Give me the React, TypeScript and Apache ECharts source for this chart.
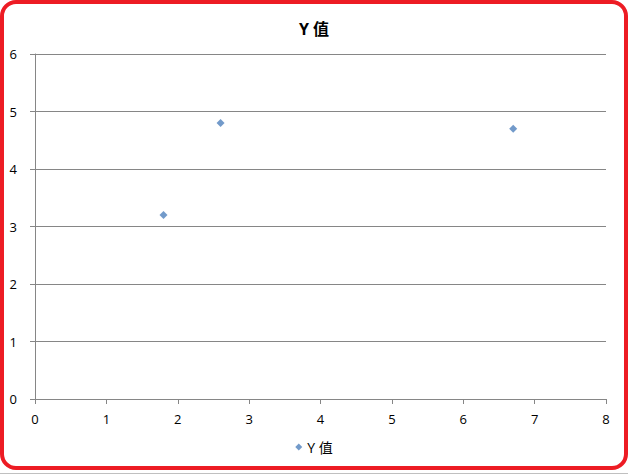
import React, { useEffect, useRef } from "react";
import * as echarts from "echarts";

const seriesName = "Y 值";
const xValues = [1.8, 2.6, 6.7];
const yValues = [3.2, 4.8, 4.7];

export default function App() {
  const ref = useRef<HTMLDivElement>(null);
  useEffect(() => {
    document.body.style.margin = "0";
    const chart = echarts.init(ref.current!, null, { renderer: "svg" });
    const font = "'Open Sans', 'Noto Sans CJK SC', sans-serif";
    chart.setOption({
      animation: false,
      backgroundColor: "#ffffff",
      title: {
        text: seriesName,
        left: "center",
        top: 16,
        textStyle: { fontSize: 16, fontWeight: "bold", color: "#000", fontFamily: font },
      },
      legend: {
        bottom: 15,
        left: "center",
        icon: "diamond",
        itemWidth: 7,
        itemHeight: 7,
        itemGap: 5,
        textStyle: { fontSize: 14, color: "#000", fontFamily: font },
        data: [seriesName],
      },
      grid: { left: 35, right: 22, top: 54, bottom: 75, containLabel: false },
      xAxis: {
        type: "value",
        min: 0,
        max: 8,
        interval: 1,
        axisLine: { show: true, lineStyle: { color: "#868686", width: 1 } },
        axisTick: { show: true, length: 5, lineStyle: { color: "#868686" } },
        axisLabel: { color: "#000", fontSize: 13, margin: 13, fontFamily: font },
        splitLine: { show: false },
      },
      yAxis: {
        type: "value",
        min: 0,
        max: 6,
        interval: 1,
        axisLine: { show: true, lineStyle: { color: "#868686", width: 1 } },
        axisTick: { show: true, length: 5, lineStyle: { color: "#868686" } },
        axisLabel: { color: "#000", fontSize: 13, margin: 18, fontFamily: font },
        splitLine: { show: true, lineStyle: { color: "#868686", width: 1 } },
      },
      series: [
        {
          name: seriesName,
          type: "scatter",
          symbol: "diamond",
          symbolSize: 8,
          itemStyle: { color: "#4F81BD" },
          data: xValues.map((x, i) => [x, yValues[i]]),
        },
      ],
      graphic: [
        {
          type: "rect",
          shape: { x: 2, y: 2, width: 624, height: 466, r: 14 },
          style: { fill: "none", stroke: "#ED1C24", lineWidth: 4 },
          silent: true,
        },
        {
          type: "line",
          shape: { x1: 0, y1: 473.5, x2: 628, y2: 473.5 },
          style: { stroke: "#c0c0c0", lineWidth: 1 },
          silent: true,
        },
      ],
    });
    return () => chart.dispose();
  }, []);
  return (
    <div
      ref={ref}
      style={{ position: "absolute", left: 0, top: 0, width: 628, height: 474 }}
    />
  );
}
